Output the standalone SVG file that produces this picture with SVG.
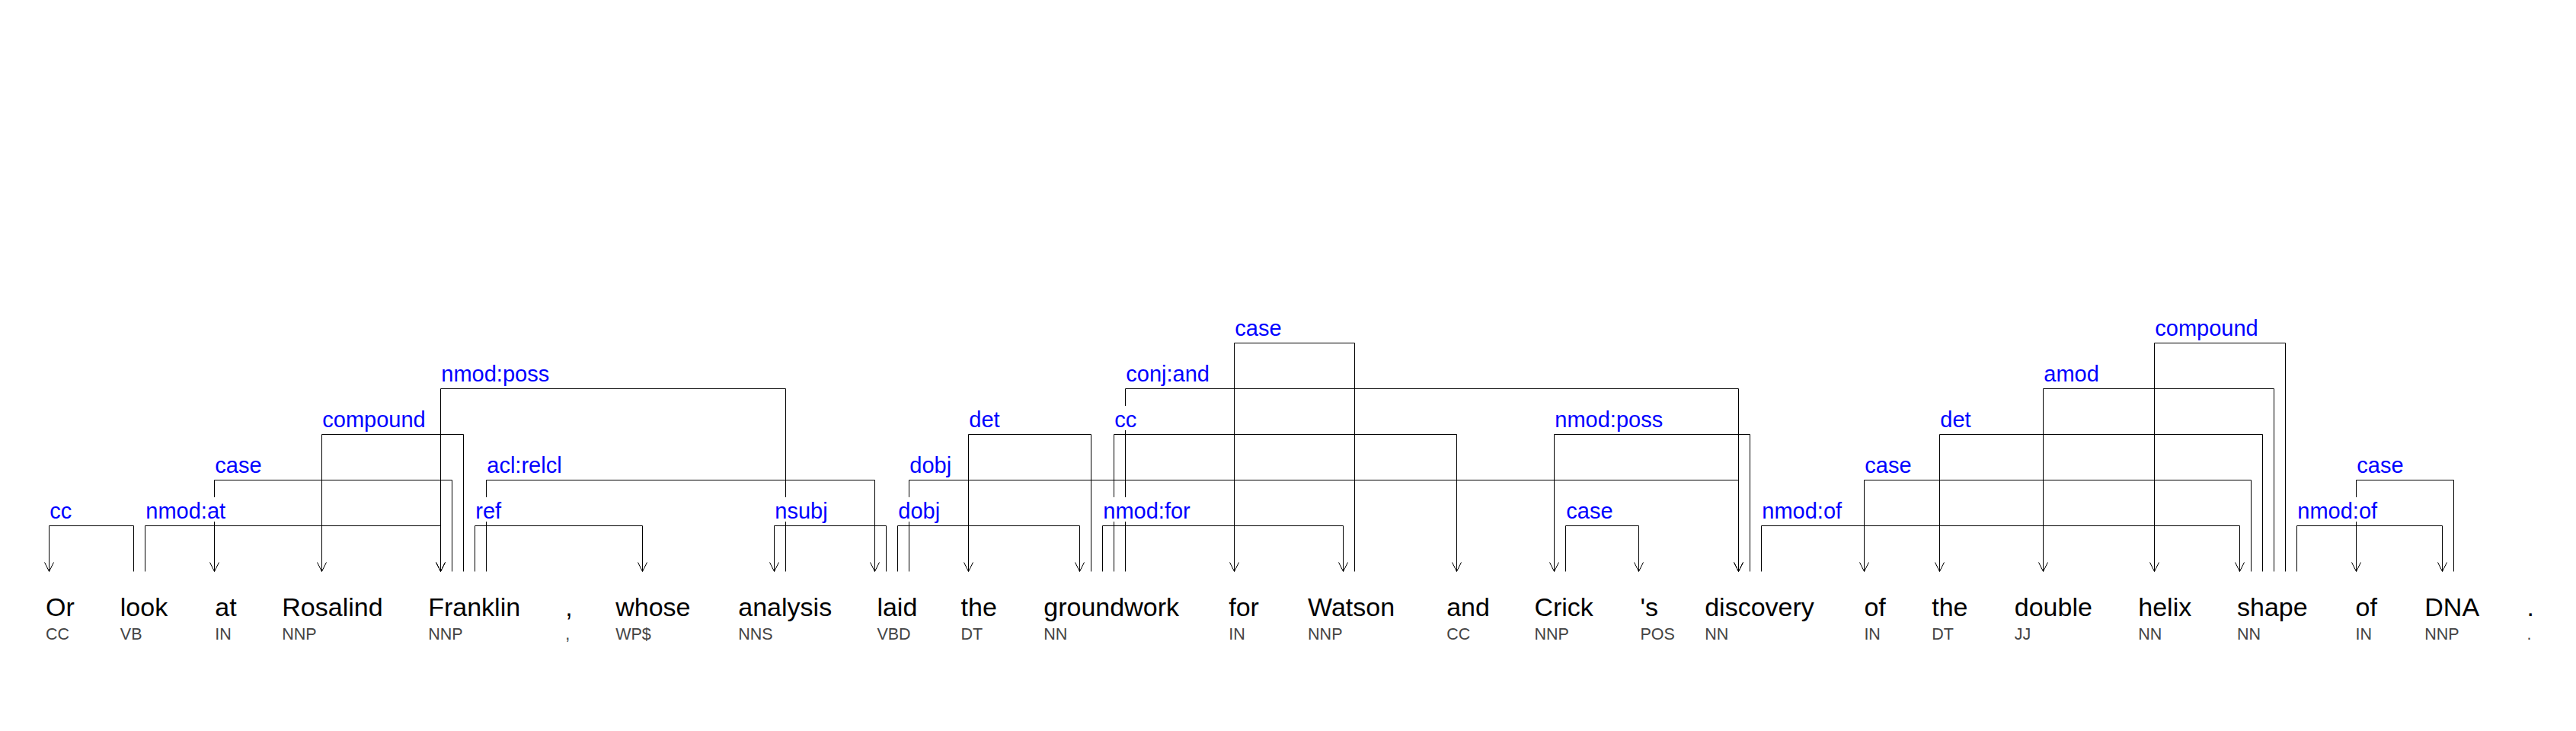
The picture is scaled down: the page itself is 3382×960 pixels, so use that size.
<svg xmlns="http://www.w3.org/2000/svg" width="3382" height="960" viewBox="0 0 3382 960">
<style>
.w{font-family:"Liberation Sans",Arial,sans-serif;font-size:34px;fill:#000}
.t{font-family:"Liberation Sans",Arial,sans-serif;font-size:21.5px;fill:#444}
.e{fill:none;stroke:#000;stroke-width:1}
.a{marker-end:url(#arr)}
.l{font-family:"Liberation Sans",Arial,sans-serif;font-size:29px;fill:#0000ff}
.bg{fill:#fff}
</style>
<defs>
<marker id="arr" markerUnits="userSpaceOnUse" markerWidth="14" markerHeight="14" refX="0" refY="0" orient="auto" overflow="visible">
<path d="M-12,-6 L0,0 L-12,6" fill="none" stroke="#000" stroke-width="1"/>
</marker>
</defs>
<rect width="3382" height="960" fill="#fff"/>
<g id="connectors">
<g id="edges">
<path class="e a" d="M175.5,750.5 V690.5 H64.5 V750.5"/>
<path class="e a" d="M190.5,750.5 V690.5 H578.5 V750.5"/>
<path class="e a" d="M593.5,750.5 V630.5 H281.5 V750.5"/>
<path class="e a" d="M608.5,750.5 V570.5 H422.5 V750.5"/>
<path class="e a" d="M1031.5,750.5 V510.5 H578.5 V750.5"/>
<path class="e a" d="M623.5,750.5 V690.5 H843.5 V750.5"/>
<path class="e a" d="M638.5,750.5 V630.5 H1148.5 V750.5"/>
<path class="e a" d="M1163.5,750.5 V690.5 H1016.5 V750.5"/>
<path class="e a" d="M1178.5,750.5 V690.5 H1417.5 V750.5"/>
<path class="e a" d="M1193.5,750.5 V630.5 H2282.5 V750.5"/>
<path class="e a" d="M1432.5,750.5 V570.5 H1271.5 V750.5"/>
<path class="e a" d="M1447.5,750.5 V690.5 H1763.5 V750.5"/>
<path class="e a" d="M1462.5,750.5 V570.5 H1912.5 V750.5"/>
<path class="e a" d="M1477.5,750.5 V510.5 H2282.5 V750.5"/>
<path class="e a" d="M1778.5,750.5 V450.5 H1620.5 V750.5"/>
<path class="e a" d="M2297.5,750.5 V570.5 H2040.5 V750.5"/>
<path class="e a" d="M2055.5,750.5 V690.5 H2151.5 V750.5"/>
<path class="e a" d="M2312.5,750.5 V690.5 H2940.5 V750.5"/>
<path class="e a" d="M2955.5,750.5 V630.5 H2447.5 V750.5"/>
<path class="e a" d="M2970.5,750.5 V570.5 H2546.5 V750.5"/>
<path class="e a" d="M2985.5,750.5 V510.5 H2682.5 V750.5"/>
<path class="e a" d="M3000.5,750.5 V450.5 H2828.5 V750.5"/>
<path class="e a" d="M3015.5,750.5 V690.5 H3206.5 V750.5"/>
<path class="e a" d="M3221.5,750.5 V630.5 H3093.5 V750.5"/>
</g>
<g id="labels">
<rect class="bg" x="65" y="653" width="31" height="32"/><text class="l" x="65.3" y="681">cc</text>
<rect class="bg" x="191" y="653" width="107" height="32"/><text class="l" x="191.3" y="681">nmod:at</text>
<rect class="bg" x="282" y="593" width="63" height="32"/><text class="l" x="282.3" y="621">case</text>
<rect class="bg" x="423" y="533" width="137" height="32"/><text class="l" x="423.3" y="561">compound</text>
<rect class="bg" x="579" y="473" width="144" height="32"/><text class="l" x="579.3" y="501">nmod:poss</text>
<rect class="bg" x="624" y="653" width="36" height="32"/><text class="l" x="624.3" y="681">ref</text>
<rect class="bg" x="639" y="593" width="100" height="32"/><text class="l" x="639.3" y="621">acl:relcl</text>
<rect class="bg" x="1017" y="653" width="71" height="32"/><text class="l" x="1017.3" y="681">nsubj</text>
<rect class="bg" x="1179" y="653" width="57" height="32"/><text class="l" x="1179.3" y="681">dobj</text>
<rect class="bg" x="1194" y="593" width="57" height="32"/><text class="l" x="1194.3" y="621">dobj</text>
<rect class="bg" x="1272" y="533" width="42" height="32"/><text class="l" x="1272.3" y="561">det</text>
<rect class="bg" x="1448" y="653" width="116" height="32"/><text class="l" x="1448.3" y="681">nmod:for</text>
<rect class="bg" x="1463" y="533" width="31" height="32"/><text class="l" x="1463.3" y="561">cc</text>
<rect class="bg" x="1478" y="473" width="112" height="32"/><text class="l" x="1478.3" y="501">conj:and</text>
<rect class="bg" x="1621" y="413" width="63" height="32"/><text class="l" x="1621.3" y="441">case</text>
<rect class="bg" x="2041" y="533" width="144" height="32"/><text class="l" x="2041.3" y="561">nmod:poss</text>
<rect class="bg" x="2056" y="653" width="63" height="32"/><text class="l" x="2056.3" y="681">case</text>
<rect class="bg" x="2313" y="653" width="107" height="32"/><text class="l" x="2313.3" y="681">nmod:of</text>
<rect class="bg" x="2448" y="593" width="63" height="32"/><text class="l" x="2448.3" y="621">case</text>
<rect class="bg" x="2547" y="533" width="42" height="32"/><text class="l" x="2547.3" y="561">det</text>
<rect class="bg" x="2683" y="473" width="74" height="32"/><text class="l" x="2683.3" y="501">amod</text>
<rect class="bg" x="2829" y="413" width="137" height="32"/><text class="l" x="2829.3" y="441">compound</text>
<rect class="bg" x="3016" y="653" width="107" height="32"/><text class="l" x="3016.3" y="681">nmod:of</text>
<rect class="bg" x="3094" y="593" width="63" height="32"/><text class="l" x="3094.3" y="621">case</text>
</g>
</g>
<g id="w1"><text class="w" x="60" y="809.3">Or</text><text class="t" x="60" y="839.5">CC</text></g>
<g id="w2"><text class="w" x="157.8" y="809.3">look</text><text class="t" x="157.8" y="839.5">VB</text></g>
<g id="w3"><text class="w" x="282.3" y="809.3">at</text><text class="t" x="282.3" y="839.5">IN</text></g>
<g id="w4"><text class="w" x="370.3" y="809.3">Rosalind</text><text class="t" x="370.3" y="839.5">NNP</text></g>
<g id="w5"><text class="w" x="562.2" y="809.3">Franklin</text><text class="t" x="562.2" y="839.5">NNP</text></g>
<g id="w6"><text class="w" x="742.2" y="809.3">,</text><text class="t" x="742.2" y="839.5">,</text></g>
<g id="w7"><text class="w" x="808.2" y="809.3">whose</text><text class="t" x="808.2" y="839.5">WP$</text></g>
<g id="w8"><text class="w" x="969.3" y="809.3">analysis</text><text class="t" x="969.3" y="839.5">NNS</text></g>
<g id="w9"><text class="w" x="1151.4" y="809.3">laid</text><text class="t" x="1151.4" y="839.5">VBD</text></g>
<g id="w10"><text class="w" x="1261.6" y="809.3">the</text><text class="t" x="1261.6" y="839.5">DT</text></g>
<g id="w11"><text class="w" x="1370.3" y="809.3">groundwork</text><text class="t" x="1370.3" y="839.5">NN</text></g>
<g id="w12"><text class="w" x="1613.2" y="809.3">for</text><text class="t" x="1613.2" y="839.5">IN</text></g>
<g id="w13"><text class="w" x="1717.1" y="809.3">Watson</text><text class="t" x="1717.1" y="839.5">NNP</text></g>
<g id="w14"><text class="w" x="1899.2" y="809.3">and</text><text class="t" x="1899.2" y="839.5">CC</text></g>
<g id="w15"><text class="w" x="2014.4" y="809.3">Crick</text><text class="t" x="2014.4" y="839.5">NNP</text></g>
<g id="w16"><text class="w" x="2153.5" y="809.3">'s</text><text class="t" x="2153.5" y="839.5">POS</text></g>
<g id="w17"><text class="w" x="2238.2" y="809.3">discovery</text><text class="t" x="2238.2" y="839.5">NN</text></g>
<g id="w18"><text class="w" x="2447.4" y="809.3">of</text><text class="t" x="2447.4" y="839.5">IN</text></g>
<g id="w19"><text class="w" x="2536.2" y="809.3">the</text><text class="t" x="2536.2" y="839.5">DT</text></g>
<g id="w20"><text class="w" x="2644.8" y="809.3">double</text><text class="t" x="2644.8" y="839.5">JJ</text></g>
<g id="w21"><text class="w" x="2807.3" y="809.3">helix</text><text class="t" x="2807.3" y="839.5">NN</text></g>
<g id="w22"><text class="w" x="2937" y="809.3">shape</text><text class="t" x="2937" y="839.5">NN</text></g>
<g id="w23"><text class="w" x="3092.5" y="809.3">of</text><text class="t" x="3092.5" y="839.5">IN</text></g>
<g id="w24"><text class="w" x="3183.3" y="809.3">DNA</text><text class="t" x="3183.3" y="839.5">NNP</text></g>
<g id="w25"><text class="w" x="3317.5" y="809.3">.</text><text class="t" x="3317.5" y="839.5">.</text></g>
</svg>
